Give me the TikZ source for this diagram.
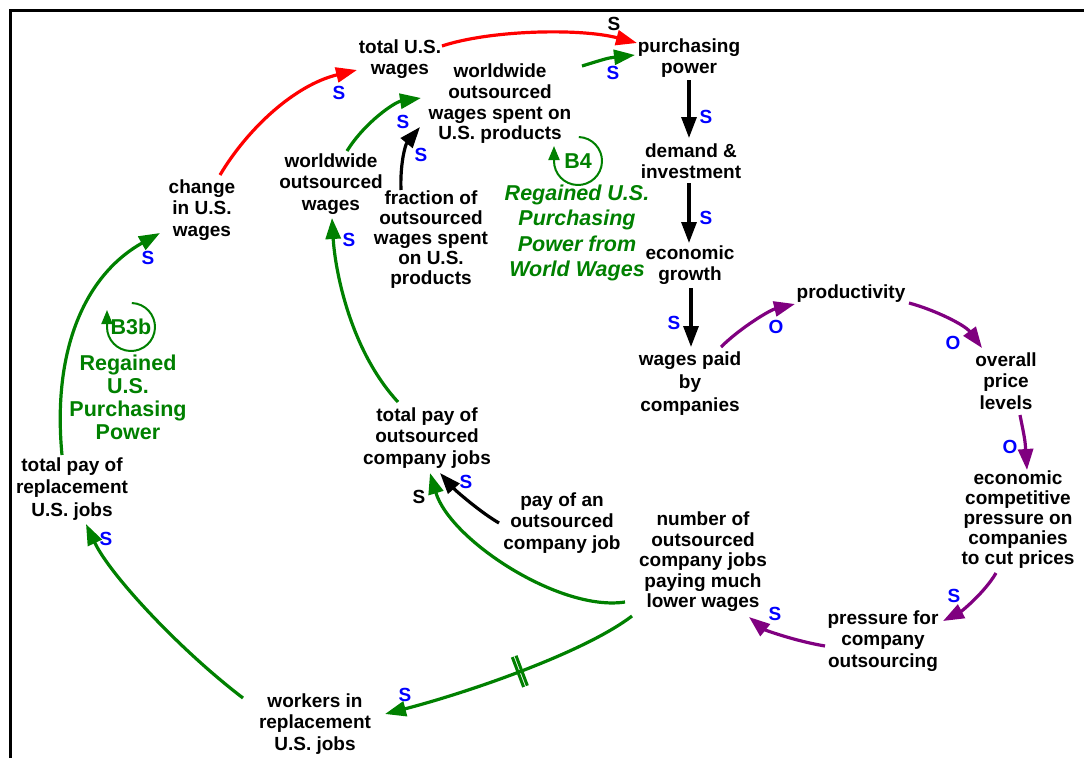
\documentclass[tikz,border=0pt]{standalone}
\usepackage{fontspec}
\setmainfont{Liberation Sans}
\usetikzlibrary{arrows.meta,decorations.markings}

\definecolor{cldgreen}{RGB}{0,128,0}
\definecolor{cldred}{RGB}{255,0,0}
\definecolor{cldpurple}{RGB}{128,0,128}
\definecolor{cldblue}{RGB}{0,0,255}

\begin{document}
\begin{tikzpicture}[x=1pt,y=-1pt,
  var/.style={align=center,inner sep=0pt,font=\bfseries\fontsize{19}{21.5}\selectfont},
  tight/.style={font=\bfseries\fontsize{19}{20}\selectfont},
  pol/.style={inner sep=0pt,text=cldblue,font=\bfseries\fontsize{19}{21}\selectfont},
  polk/.style={pol,text=black},
  link/.style={line width=3.2pt,-{Triangle[length=21pt,width=15pt]}},
  loopname/.style={inner sep=0pt,text=cldgreen,align=center,font=\bfseries\fontsize{21.5}{23}\selectfont},
  looparrow/.style={cldgreen,line width=2pt,-{Triangle[length=14pt,width=11pt]}},
  delaymark/.style={postaction={decorate,decoration={markings,
      mark=at position 0.47 with {\draw[cldgreen,line width=3pt,-]
        (-2pt,-16pt) -- (-2pt,16pt) (2pt,-16pt) -- (2pt,16pt);}}}}
]
\useasboundingbox (0,0) rectangle (1084,758);

% frame
\draw[line width=3.5pt] (10.3,758) -- (10.3,10.5) -- (1084,10.5);

% variables
\node[var] (tusw) at (400,59) {total U.S.\\wages};
\node[var] (pp) at (689,58) {purchasing\\power};
\node[var,font=\bfseries\fontsize{19}{20.7}\selectfont] (wows) at (500,104) {worldwide\\outsourced\\wages spent on\\U.S. products};
\node[var] (di) at (691,161) {demand \&\\investment};
\node[var] (eg) at (690,265) {economic\\growth};
\node[var,font=\bfseries\fontsize{19}{23}\selectfont] (wpc) at (690,384) {wages paid\\by\\companies};
\node[var] (prod) at (851,294) {productivity};
\node[var] (opl) at (1006,381) {overall\\price\\levels};
\node[var,tight] (ecp) at (1018,520) {economic\\competitive\\pressure on\\companies\\to cut prices};
\node[var] (pco) at (883,641) {pressure for\\company\\outsourcing};
\node[var,font=\bfseries\fontsize{19}{20.5}\selectfont] (nocj) at (703,562) {number of\\outsourced\\company jobs\\paying much\\lower wages};
\node[var] (poj) at (562,523) {pay of an\\outsourced\\company job};
\node[var] (tpoc) at (427,438) {total pay of\\outsourced\\company jobs};
\node[var] (wrj) at (315,724) {workers in\\replacement\\U.S. jobs};
\node[var,font=\bfseries\fontsize{19}{22.5}\selectfont] (tprj) at (72,489) {total pay of\\replacement\\U.S. jobs};
\node[var] (cusw) at (202,210) {change\\in U.S.\\wages};
\node[var] (wow) at (331,184) {worldwide\\outsourced\\wages};
\node[var,tight] (frac) at (431,240) {fraction of\\outsourced\\wages spent\\on U.S.\\products};

% loop identifiers
\node[loopname] (b4) at (578,161) {B4};
\node[loopname,font=\bfseries\itshape\fontsize{21.5}{25.5}\selectfont] (b4name) at (577,233) {Regained U.S.\\Purchasing\\Power from\\World Wages};
\node[loopname] (b3b) at (131,327) {B3b};
\node[loopname] (b3bname) at (128,397) {Regained\\U.S.\\Purchasing\\Power};

\draw[looparrow] ([shift={(88:24pt)}]b4.center) arc[start angle=88,end angle=-180,radius=24pt] -- ++(0pt,15pt);
\draw[looparrow] ([shift={(88:24pt)}]b3b.center) arc[start angle=88,end angle=-180,radius=24pt] -- ++(0pt,17pt);

% red links
\draw[link,cldred] ([shift={(18,-35)}]cusw.center) .. controls (248,128) and (295,85) .. ([shift={(-43,11)}]tusw.center);
\draw[link,cldred] ([shift={(42,-13)}]tusw.center) .. controls (490,30) and (580,28) .. ([shift={(-52,-15)}]pp.center);

% green links
\draw[link,cldgreen] ([shift={(82,-38)}]wows.center) .. controls (608,58) .. ([shift={(-54,-3)}]pp.center);
\draw[link,cldgreen] ([shift={(16,-33)}]wow.center) .. controls (365,122) and (395,102) .. ([shift={(-79,-6)}]wows.center);
\draw[link,cldgreen] ([shift={(-78,40)}]nocj.center) .. controls (560,612) and (450,540) .. ([shift={(3,35)}]tpoc.center);
\draw[link,cldgreen,delaymark] ([shift={(-71,54)}]nocj.center) .. controls (585,652) and (470,692) .. ([shift={(70,-10)}]wrj.center);
\draw[link,cldgreen] ([shift={(-72,-26)}]wrj.center) .. controls (180,650) and (110,575) .. ([shift={(14,35)}]tprj.center);
\draw[link,cldgreen] ([shift={(-10,-34)}]tprj.center) .. controls (52,350) and (85,275) .. ([shift={(-42,23)}]cusw.center);
\draw[link,cldgreen] ([shift={(-29,-36)}]tpoc.center) .. controls (350,350) and (335,270) .. ([shift={(1,34)}]wow.center);

% black links
\draw[link] ([shift={(-30,-50)}]frac.center) .. controls (400,165) and (405,145) .. ([shift={(-80,23)}]wows.center);
\draw[link] ([shift={(0,22)}]pp.center) -- ([shift={(-2,-23)}]di.center);
\draw[link] ([shift={(-2,22)}]di.center) -- ([shift={(-1,-22)}]eg.center);
\draw[link] ([shift={(1,23)}]eg.center) -- ([shift={(1,-37)}]wpc.center);
\draw[link] ([shift={(-63,0)}]poj.center) .. controls (480,512) and (455,490) .. ([shift={(13,35)}]tpoc.center);

% purple links
\draw[link,cldpurple] ([shift={(31,-37)}]wpc.center) .. controls (740,328) and (770,310) .. ([shift={(-56,10)}]prod.center);
\draw[link,cldpurple] ([shift={(58,9)}]prod.center) .. controls (935,310) and (965,325) .. ([shift={(-24,-33)}]opl.center);
\draw[link,cldpurple] ([shift={(14,34)}]opl.center) .. controls (1025,440) .. ([shift={(9,-50)}]ecp.center);
\draw[link,cldpurple] ([shift={(-22,53)}]ecp.center) .. controls (985,592) and (962,611) .. ([shift={(60,-20)}]pco.center);
\draw[link,cldpurple] ([shift={(-58,5)}]pco.center) .. controls (795,641) and (765,630) .. ([shift={(46,55)}]nocj.center);

% polarities
\node[pol] (pa) at (339,93) {S};
\node[polk] (pb) at (614,24) {S};
\node[pol] (pc) at (613,73) {S};
\node[pol] (pd) at (403,122) {S};
\node[pol] (pe) at (421,155) {S};
\node[pol] (pf) at (706,117) {S};
\node[pol] (pg) at (706,218) {S};
\node[pol] (ph) at (674,323) {S};
\node[pol] (pi) at (776,327) {O};
\node[pol] (pj) at (953,343) {O};
\node[pol] (pk) at (1010,447) {O};
\node[pol] (pl) at (954,596) {S};
\node[pol] (pm) at (775,614) {S};
\node[polk] (pn) at (419,497) {S};
\node[pol] (po) at (466,482) {S};
\node[pol] (pp2) at (405,695) {S};
\node[pol] (pq) at (106,539) {S};
\node[pol] (pr) at (148,258) {S};
\node[pol] (ps) at (349,240) {S};
\end{tikzpicture}
\end{document}
